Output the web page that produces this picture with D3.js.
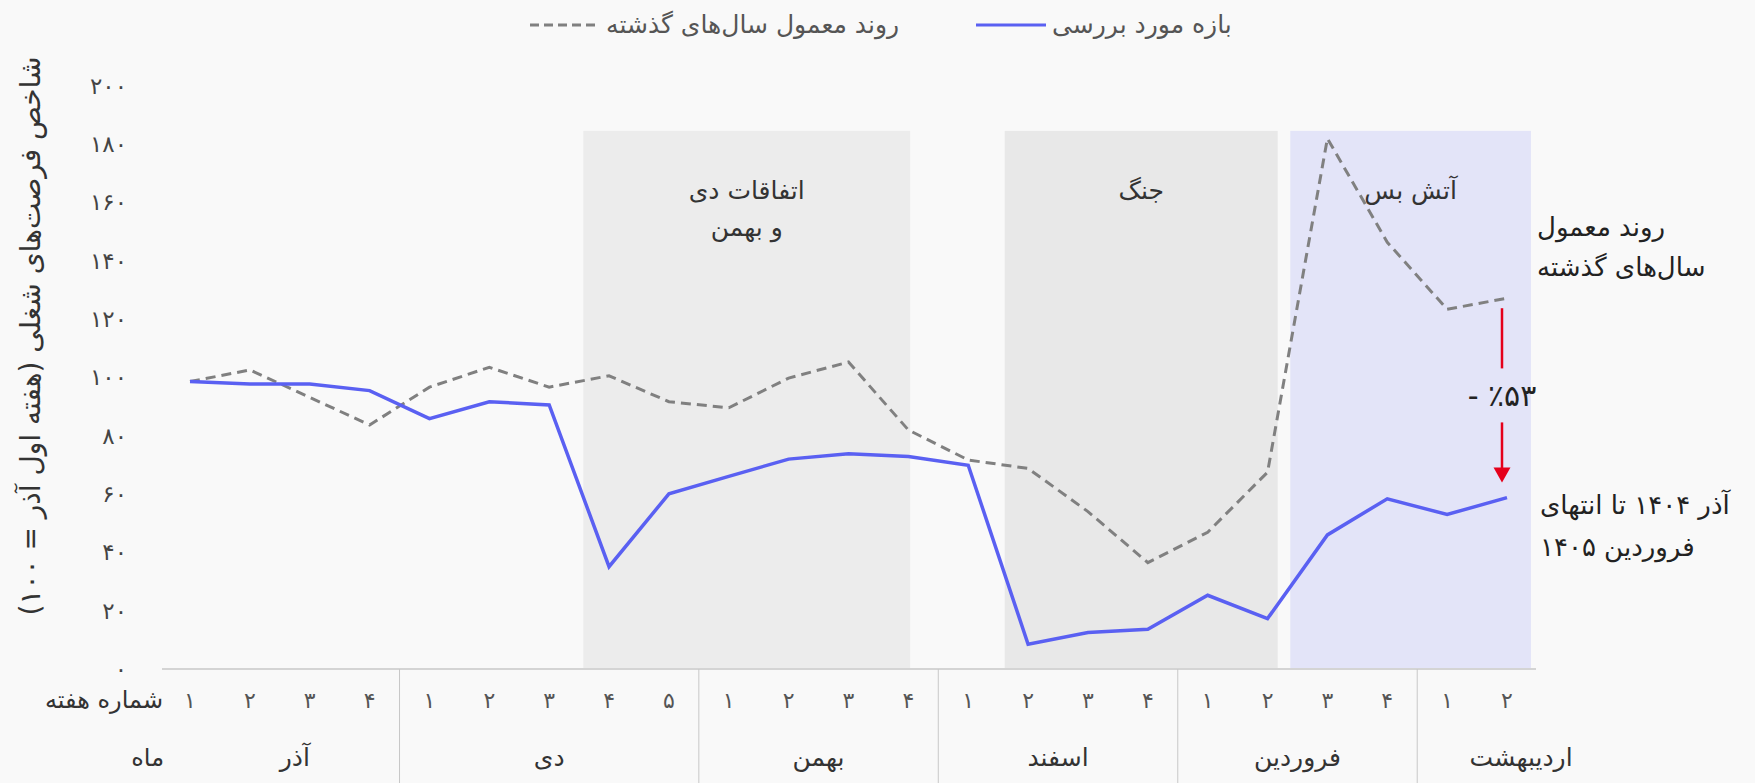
<!DOCTYPE html>
<html lang="fa">
<head>
    <meta charset="UTF-8">
    <script src="https://d3js.org/d3.v7.min.js"></script>
    <title>Chart</title>
    <style>
        body { margin: 0; background: #f9f9f9; }
        svg { display: block; font-family: "DejaVu Sans", sans-serif; }
    </style>
</head>
<body>
    <div id="chart"></div>
    <script>
// data
var weekLabels = ['1','2','3','4', '1','2','3','4','5', '1','2','3','4', '1','2','3','4', '1','2','3','4', '1','2'];
var monthNames = ['آذر', 'دی', 'بهمن', 'اسفند', 'فروردین', 'اردیبهشت'];
var monthWeeks = [4, 5, 4, 4, 4, 2];
var current = [98.6, 97.8, 97.8, 95.5, 85.9, 91.7, 90.6, 35.1, 60.1, 66.1, 72.0, 73.8, 72.9, 69.9,
               8.5, 12.5, 13.6, 25.3, 17.3, 46.0, 58.4, 53.0, 58.8];
var usual = [98.6, 102.6, 93.2, 83.7, 96.7, 103.5, 96.7, 100.6, 91.7, 89.6, 99.8, 105.3, 82.0, 71.7,
             68.8, 54.0, 36.5, 46.9, 67.5, 182.0, 146.4, 123.4, 127.2];
var yTicks = [0, 20, 40, 60, 80, 100, 120, 140, 160, 180, 200];
var eventNames = [['اتفاقات دی', 'و بهمن'], ['جنگ'], ['آتش بس']];
var eventStart = [6.57, 13.61, 18.38];
var eventEnd = [12.03, 18.17, 22.4];
var eventFill = ['#ececec', '#e8e8e8', '#e3e4f8'];
var gapLabel = '- ٪53';

var width = 1755, height = 783;
var blue = '#5a60f2', grey = '#808080', red = '#e5001b';

function fa(s) {
    return String(s).replace(/\d/g, function(d) { return '۰۱۲۳۴۵۶۷۸۹'[d]; });
}

var svg = d3.select('#chart').append('svg')
    .attr('width', width)
    .attr('height', height);

svg.append('rect').attr('width', width).attr('height', height).attr('fill', '#f9f9f9');

var x = d3.scaleLinear().domain([0, current.length - 1]).range([190, 1507]);
var y = d3.scaleLinear().domain([0, 200]).range([669, 86]);

// event boxes
var boxTop = 184.6;
eventNames.forEach(function(lines, i) {
    var cx = (x(eventStart[i]) + x(eventEnd[i])) / 2;
    svg.append('rect')
        .attr('x', x(eventStart[i]))
        .attr('y', y(boxTop))
        .attr('width', x(eventEnd[i]) - x(eventStart[i]))
        .attr('height', y(0) - y(boxTop))
        .attr('fill', eventFill[i]);
    var t = svg.append('text')
        .attr('x', cx)
        .attr('y', 199)
        .attr('text-anchor', 'middle')
        .attr('font-size', 25)
        .attr('fill', '#333');
    lines.forEach(function(l, j) {
        t.append('tspan').attr('x', cx).attr('dy', j ? 37 : 0).text(l);
    });
});

// y axis
var yAxis = svg.append('g')
    .attr('transform', 'translate(127,0)')
    .call(d3.axisLeft(y).tickValues(yTicks).tickSize(0).tickPadding(0).tickFormat(fa));
yAxis.select('.domain').remove();
yAxis.selectAll('text')
    .attr('font-size', 23)
    .attr('font-family', '"DejaVu Sans", sans-serif')
    .attr('fill', '#444');

svg.append('text')
    .attr('transform', 'translate(40,' + 336 + ') rotate(-90)')
    .attr('text-anchor', 'middle')
    .attr('direction', 'rtl')
    .attr('font-size', 28)
    .attr('fill', '#333')
    .text('شاخص فرصت‌های شغلی (هفته اول آذر = ' + fa(100) + ')');

// x axis line
svg.append('line')
    .attr('x1', 162).attr('x2', 1536)
    .attr('y1', y(0)).attr('y2', y(0))
    .attr('stroke', '#d4d4d4').attr('stroke-width', 2);

// week labels
svg.selectAll('.week')
    .data(weekLabels)
    .enter().append('text')
    .attr('class', 'week')
    .attr('x', function(d, i) { return x(i); })
    .attr('y', 708)
    .attr('text-anchor', 'middle')
    .attr('font-size', 22)
    .attr('fill', '#555')
    .text(function(d) { return fa(d); });

svg.append('text')
    .attr('x', 163).attr('y', 708)
    .attr('text-anchor', 'end')
    .attr('font-size', 24).attr('fill', '#333')
    .text('شماره هفته');
svg.append('text')
    .attr('x', 164).attr('y', 766)
    .attr('text-anchor', 'end')
    .attr('font-size', 24).attr('fill', '#333')
    .text('ماه');

// month groups
var start = 0;
monthNames.forEach(function(m, i) {
    var first = start, last = start + monthWeeks[i] - 1;
    var left = i === 0 ? x(0) : x(first - 0.5);
    var right = i === monthNames.length - 1 ? 1625 : x(last + 0.5);
    if (i > 0) {
        svg.append('line')
            .attr('x1', left).attr('x2', left)
            .attr('y1', y(0)).attr('y2', height)
            .attr('stroke', '#c8c8c8').attr('stroke-width', 1);
    }
    svg.append('text')
        .attr('x', (left + right) / 2)
        .attr('y', 766)
        .attr('text-anchor', 'middle')
        .attr('font-size', 25)
        .attr('fill', '#333')
        .text(m);
    start = last + 1;
});

// lines
var line = d3.line()
    .x(function(d, i) { return x(i); })
    .y(function(d) { return y(d); });

svg.append('path')
    .datum(usual)
    .attr('d', line)
    .attr('fill', 'none')
    .attr('stroke', grey)
    .attr('stroke-width', 3)
    .attr('stroke-dasharray', '10,6');

svg.append('path')
    .datum(current)
    .attr('d', line)
    .attr('fill', 'none')
    .attr('stroke', blue)
    .attr('stroke-width', 3.5);

// gap arrow
var last = current.length - 1;
var ax = x(last) - 5;
var aTop = y(usual[last]) + 10;
var aBot = y(current[last]) - 15;
var aMid = (aTop + aBot) / 2;
svg.append('line')
    .attr('x1', ax).attr('x2', ax).attr('y1', aTop).attr('y2', aMid - 27)
    .attr('stroke', red).attr('stroke-width', 2.5);
svg.append('line')
    .attr('x1', ax).attr('x2', ax).attr('y1', aMid + 27).attr('y2', aBot - 14)
    .attr('stroke', red).attr('stroke-width', 2.5);
svg.append('path')
    .attr('d', 'M' + (ax - 8.5) + ',' + (aBot - 15) + 'L' + (ax + 8.5) + ',' + (aBot - 15) + 'L' + ax + ',' + aBot + 'Z')
    .attr('fill', red);
svg.append('text')
    .attr('x', ax).attr('y', aMid + 11)
    .attr('text-anchor', 'middle')
    .attr('font-size', 30)
    .attr('fill', '#222')
    .style('direction', 'ltr')
    .style('unicode-bidi', 'bidi-override')
    .text(fa(gapLabel));

// end labels
var endLabels = [
    ['روند معمول', 1537, y(usual[last]) - 62],
    ['سال‌های گذشته', 1537, y(usual[last]) - 22],
    ['آذر ' + fa(1404) + ' تا انتهای', 1540, y(current[last]) + 16],
    ['فروردین ' + fa(1405), 1540, y(current[last]) + 58]
];
endLabels.forEach(function(d) {
    svg.append('text')
        .attr('x', d[1]).attr('y', d[2])
        .attr('font-size', 26).attr('fill', '#222')
        .text(d[0]);
});

// legend
var legend = [
    { label: 'روند معمول سال‌های گذشته', color: grey, dash: '9,5', x: 530 },
    { label: 'بازه مورد بررسی', color: blue, dash: null, x: 976 }
];
legend.forEach(function(d) {
    svg.append('line')
        .attr('x1', d.x).attr('x2', d.x + 70)
        .attr('y1', 25).attr('y2', 25)
        .attr('stroke', d.color).attr('stroke-width', 3)
        .attr('stroke-dasharray', d.dash);
    svg.append('text')
        .attr('x', d.x + 76).attr('y', 33)
        .attr('font-size', 25).attr('fill', '#555')
        .text(d.label);
});
    </script>
</body>
</html>
